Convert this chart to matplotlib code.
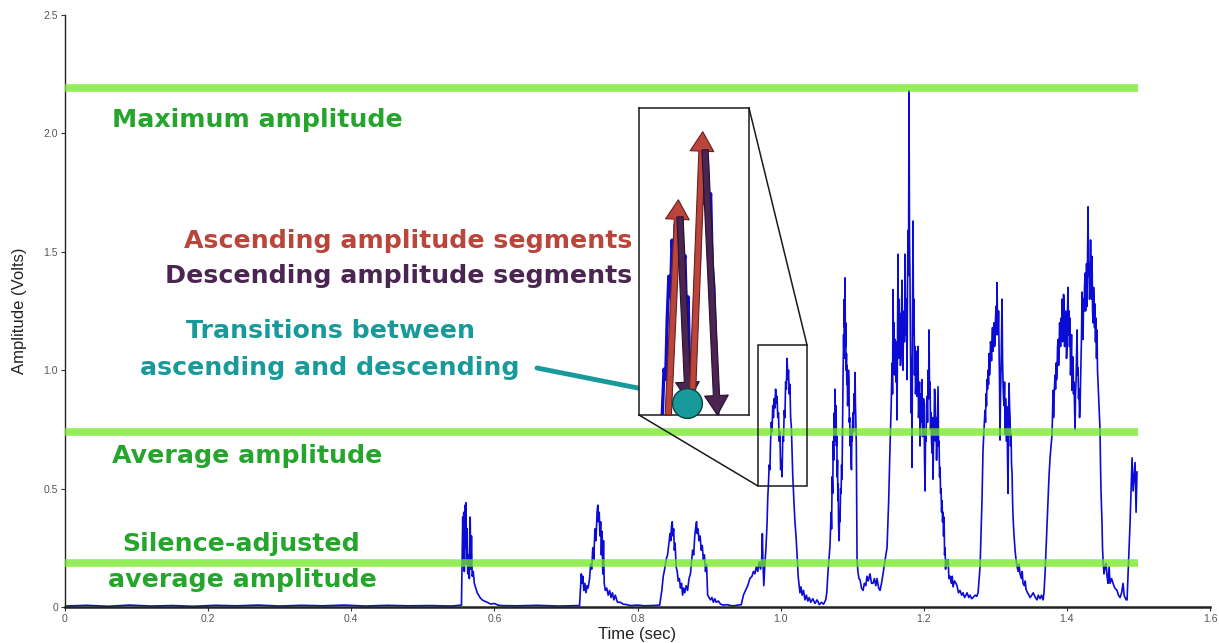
import matplotlib
matplotlib.use('Agg')
import matplotlib.pyplot as plt
from matplotlib.patches import Rectangle, ConnectionPatch, FancyArrowPatch

# ---------------- data: (time s, amplitude V) ----------------
silence_start = [
    (0.000, 0.004), (0.030, 0.007), (0.060, 0.003), (0.090, 0.008), (0.120, 0.004),
    (0.150, 0.006), (0.180, 0.003), (0.210, 0.007), (0.240, 0.005), (0.270, 0.008),
    (0.300, 0.004), (0.330, 0.007), (0.360, 0.005), (0.390, 0.008), (0.420, 0.004),
    (0.450, 0.007), (0.480, 0.005), (0.510, 0.006), (0.540, 0.004), (0.554, 0.008),
]

burst1 = [
    (0.5558, 0.38), (0.5565, 0.20), (0.5572, 0.40), (0.5580, 0.15), (0.5590, 0.43),
    (0.5597, 0.25), (0.5604, 0.44), (0.5612, 0.18), (0.5620, 0.33), (0.5628, 0.14),
    (0.5640, 0.22), (0.5650, 0.12), (0.5662, 0.38), (0.5670, 0.16), (0.5680, 0.30),
    (0.5690, 0.13), (0.5705, 0.15), (0.5720, 0.10), (0.5740, 0.08), (0.5760, 0.06),
    (0.5780, 0.05), (0.5800, 0.04), (0.5830, 0.03), (0.5860, 0.025), (0.5900, 0.02),
    (0.5950, 0.012), (0.6000, 0.015), (0.6050, 0.008), (0.6100, 0.006), (0.6300, 0.005),
    (0.6600, 0.007), (0.6900, 0.004), (0.7150, 0.006),
]

burst2 = [
    (0.7190, 0.006), (0.7200, 0.06), (0.7215, 0.14), (0.7225, 0.10), (0.7235, 0.13),
    (0.7250, 0.07), (0.7265, 0.10), (0.7280, 0.06), (0.7295, 0.09), (0.7310, 0.08),
    (0.7330, 0.12), (0.7345, 0.18), (0.7360, 0.16), (0.7375, 0.25), (0.7390, 0.20),
    (0.7405, 0.33), (0.7420, 0.28), (0.7435, 0.40), (0.7445, 0.43), (0.7455, 0.36),
    (0.7465, 0.40), (0.7475, 0.30), (0.7485, 0.36), (0.7495, 0.22), (0.7505, 0.32),
    (0.7515, 0.14), (0.7525, 0.28), (0.7535, 0.10), (0.7550, 0.07), (0.7570, 0.08),
    (0.7590, 0.05), (0.7610, 0.07), (0.7630, 0.04), (0.7650, 0.06), (0.7670, 0.03),
    (0.7690, 0.05), (0.7720, 0.02), (0.7760, 0.02), (0.7800, 0.012), (0.7850, 0.01),
    (0.7900, 0.006), (0.8000, 0.008), (0.8100, 0.005), (0.8200, 0.006), (0.8310, 0.008),
]

burst3 = [
    (0.8340, 0.07), (0.8360, 0.13), (0.8380, 0.16), (0.8400, 0.20), (0.8420, 0.22),
    (0.8440, 0.27), (0.8455, 0.31), (0.8465, 0.28), (0.8475, 0.34), (0.8485, 0.36),
    (0.8495, 0.30), (0.8505, 0.33), (0.8515, 0.24), (0.8525, 0.27), (0.8540, 0.17),
    (0.8555, 0.15), (0.8570, 0.11), (0.8585, 0.12), (0.8600, 0.08), (0.8615, 0.10),
    (0.8630, 0.05), (0.8645, 0.08), (0.8660, 0.06), (0.8680, 0.09), (0.8700, 0.07),
    (0.8720, 0.12), (0.8740, 0.14), (0.8755, 0.19), (0.8770, 0.24), (0.8785, 0.22),
    (0.8800, 0.30), (0.8815, 0.34), (0.8825, 0.36), (0.8835, 0.31), (0.8845, 0.33),
    (0.8860, 0.28), (0.8875, 0.30), (0.8890, 0.24), (0.8905, 0.26), (0.8920, 0.20),
    (0.8935, 0.22), (0.8950, 0.15), (0.8965, 0.18), (0.8980, 0.05), (0.9000, 0.04),
    (0.9020, 0.03), (0.9040, 0.04), (0.9060, 0.02), (0.9080, 0.035), (0.9100, 0.02),
    (0.9130, 0.025), (0.9160, 0.012), (0.9200, 0.008), (0.9250, 0.01), (0.9300, 0.006),
    (0.9350, 0.005), (0.9400, 0.008), (0.9450, 0.01),
]

burst4 = [
    (0.9480, 0.05), (0.9510, 0.07), (0.9540, 0.09), (0.9570, 0.12), (0.9600, 0.13),
    (0.9620, 0.15), (0.9640, 0.14), (0.9660, 0.17), (0.9680, 0.15), (0.9700, 0.19),
    (0.9720, 0.16), (0.9735, 0.20), (0.9745, 0.31), (0.9755, 0.17), (0.9765, 0.09),
    (0.9780, 0.18), (0.9795, 0.25), (0.9810, 0.35), (0.9820, 0.46), (0.9830, 0.52),
    (0.9840, 0.60), (0.9850, 0.58), (0.9860, 0.70), (0.9870, 0.78), (0.9880, 0.74),
    (0.9890, 0.85), (0.9900, 0.80), (0.9910, 0.88), (0.9920, 0.84), (0.9930, 0.92),
    (0.9940, 0.86), (0.9950, 0.89), (0.9960, 0.80), (0.9970, 0.82), (0.9980, 0.70),
    (0.9990, 0.74), (1.0000, 0.58), (1.0010, 0.62), (1.0020, 0.55), (1.0030, 0.72),
    (1.0040, 0.70), (1.0050, 0.83), (1.0060, 0.80), (1.0070, 0.95), (1.0080, 0.92),
    (1.0090, 1.05), (1.0100, 0.96), (1.0110, 1.00), (1.0120, 0.90), (1.0130, 0.94),
    (1.0140, 0.80), (1.0150, 0.76), (1.0160, 0.66), (1.0170, 0.55), (1.0180, 0.48),
    (1.0190, 0.42), (1.0200, 0.36), (1.0215, 0.30), (1.0230, 0.22), (1.0245, 0.13),
    (1.0260, 0.09), (1.0270, 0.06), (1.0285, 0.085), (1.0300, 0.05), (1.0320, 0.07),
    (1.0340, 0.03), (1.0360, 0.05), (1.0380, 0.025), (1.0400, 0.04), (1.0420, 0.02),
    (1.0450, 0.035), (1.0480, 0.015), (1.0510, 0.03), (1.0540, 0.01), (1.0570, 0.02),
    (1.0600, 0.012), (1.0630, 0.03),
]

burst5 = [
    (1.0645, 0.06), (1.0660, 0.14), (1.0675, 0.20), (1.0690, 0.26), (1.0705, 0.40),
    (1.0712, 0.33), (1.0720, 0.55), (1.0728, 0.48), (1.0735, 0.70), (1.0742, 0.62),
    (1.0750, 0.82), (1.0755, 0.70), (1.0760, 0.92), (1.0765, 0.80), (1.0770, 0.75),
    (1.0775, 0.85), (1.0780, 0.68), (1.0785, 0.72), (1.0790, 0.55), (1.0795, 0.62),
    (1.0800, 0.45), (1.0805, 0.52), (1.0810, 0.34), (1.0818, 0.28), (1.0824, 0.40),
    (1.0830, 0.36), (1.0838, 0.50), (1.0845, 0.48), (1.0852, 0.60), (1.0858, 0.54),
    (1.0865, 0.75), (1.0872, 0.96), (1.0880, 1.15), (1.0885, 1.05), (1.0890, 1.30),
    (1.0895, 1.18), (1.0900, 1.39), (1.0905, 1.10), (1.0910, 1.20), (1.0915, 1.00),
    (1.0920, 1.07), (1.0925, 0.94), (1.0930, 1.02), (1.0936, 0.85), (1.0942, 0.89),
    (1.0948, 1.00), (1.0955, 0.95), (1.0960, 0.78), (1.0965, 0.80), (1.0972, 0.68),
    (1.0978, 0.75), (1.0984, 0.62), (1.0990, 0.58), (1.0995, 0.72), (1.1000, 0.70),
    (1.1006, 0.78), (1.1012, 0.82), (1.1018, 0.74), (1.1025, 0.90), (1.1032, 0.82),
    (1.1040, 0.99), (1.1045, 0.86), (1.1050, 0.80), (1.1058, 0.68), (1.1063, 0.40),
    (1.1068, 0.20), (1.1080, 0.15), (1.1095, 0.12),
    (1.1110, 0.115), (1.1130, 0.08), (1.1152, 0.07), (1.1170, 0.10), (1.1190, 0.09),
    (1.1207, 0.13), (1.1225, 0.11), (1.1249, 0.14), (1.1270, 0.10), (1.1291, 0.10),
    (1.1310, 0.12), (1.1330, 0.09), (1.1347, 0.12), (1.1370, 0.08), (1.1389, 0.07),
    (1.1410, 0.10), (1.1431, 0.14), (1.1460, 0.20), (1.1487, 0.25), (1.1510, 0.45),
    (1.1529, 0.68), (1.1545, 0.85),
    (1.1557, 1.03), (1.1564, 0.90), (1.1571, 1.34), (1.1578, 1.05), (1.1585, 1.20),
    (1.1592, 0.98), (1.1599, 1.13), (1.1606, 1.02), (1.1612, 0.95), (1.1619, 1.12),
    (1.1626, 0.79), (1.1633, 1.10), (1.1640, 1.49), (1.1647, 1.05), (1.1655, 1.30),
    (1.1661, 1.12), (1.1668, 1.24), (1.1675, 1.02), (1.1682, 1.10), (1.1689, 1.25),
    (1.1696, 1.38), (1.1703, 1.08), (1.1710, 1.00), (1.1717, 1.20), (1.1724, 1.25),
    (1.1731, 1.12), (1.1738, 1.49), (1.1745, 1.22), (1.1752, 1.15), (1.1759, 1.30),
    (1.1766, 0.96), (1.1773, 1.35), (1.1780, 1.59), (1.1787, 1.40), (1.1794, 2.18),
    (1.1801, 1.55), (1.1808, 1.38), (1.1815, 1.10), (1.1822, 0.82), (1.1829, 1.05),
    (1.1836, 0.59), (1.1843, 1.20), (1.1850, 1.63), (1.1857, 1.15), (1.1864, 1.30),
    (1.1871, 0.98), (1.1878, 1.10), (1.1885, 0.90), (1.1892, 0.95), (1.1899, 1.08),
    (1.1906, 0.89), (1.1913, 1.02), (1.1920, 1.10), (1.1927, 0.80), (1.1934, 0.85),
    (1.1941, 0.95), (1.1948, 0.68), (1.1955, 0.85), (1.1962, 0.90), (1.1969, 0.78),
    (1.1976, 0.96), (1.1983, 0.72), (1.1990, 0.75), (1.1997, 0.88), (1.2004, 0.85),
    (1.2011, 0.62), (1.2018, 0.49), (1.2025, 0.72), (1.2032, 0.70), (1.2039, 0.85),
    (1.2046, 0.89), (1.2053, 0.78), (1.2060, 1.00), (1.2067, 0.88), (1.2074, 1.17),
    (1.2081, 0.90), (1.2088, 0.95), (1.2095, 0.75), (1.2102, 0.82), (1.2109, 0.70),
    (1.2116, 0.65), (1.2123, 0.80), (1.2130, 0.54), (1.2137, 0.70), (1.2144, 0.75),
    (1.2151, 0.92), (1.2158, 0.89), (1.2165, 0.70), (1.2172, 0.80), (1.2179, 0.62),
    (1.2186, 0.73), (1.2193, 0.85), (1.2200, 0.93), (1.2207, 0.68), (1.2214, 0.70),
    (1.2221, 0.55), (1.2228, 0.59), (1.2235, 0.48), (1.2242, 0.50), (1.2249, 0.40),
    (1.2256, 0.45), (1.2263, 0.36), (1.2270, 0.40), (1.2277, 0.30), (1.2284, 0.38),
    (1.2291, 0.22), (1.2298, 0.25), (1.2305, 0.16), (1.2311, 0.20), (1.2325, 0.18),
    (1.2340, 0.20), (1.2352, 0.12), (1.2367, 0.13), (1.2385, 0.10), (1.2398, 0.13),
    (1.2409, 0.085), (1.2430, 0.11), (1.2450, 0.10), (1.2465, 0.09), (1.2485, 0.06),
    (1.2507, 0.07), (1.2530, 0.05), (1.2549, 0.06), (1.2570, 0.04), (1.2590, 0.05),
    (1.2605, 0.06), (1.2630, 0.04), (1.2647, 0.05), (1.2670, 0.035), (1.2689, 0.04),
    (1.2720, 0.05), (1.2740, 0.045), (1.2759, 0.06),
]

burst6 = [
    (1.2787, 0.17), (1.2800, 0.30), (1.2814, 0.45), (1.2828, 0.66), (1.2842, 0.75),
    (1.2856, 0.83), (1.2863, 0.78), (1.2870, 0.90), (1.2877, 0.85), (1.2884, 0.96),
    (1.2891, 0.92), (1.2898, 1.00), (1.2905, 0.94), (1.2912, 1.07), (1.2919, 0.98),
    (1.2926, 1.02), (1.2933, 1.12), (1.2940, 1.10), (1.2947, 1.04), (1.2954, 1.13),
    (1.2961, 1.18), (1.2968, 1.08), (1.2975, 1.15), (1.2982, 1.20), (1.2989, 1.10),
    (1.2996, 1.12), (1.3003, 1.22), (1.3010, 1.27), (1.3017, 1.15), (1.3024, 1.37),
    (1.3031, 1.20), (1.3038, 1.15), (1.3045, 1.25), (1.3052, 1.085), (1.3059, 0.95),
    (1.3066, 0.705), (1.3073, 0.90), (1.3080, 1.00), (1.3087, 1.15), (1.3094, 1.30),
    (1.3101, 1.05), (1.3108, 0.945), (1.3115, 0.88), (1.3122, 0.85), (1.3129, 0.95),
    (1.3136, 0.73), (1.3143, 0.88), (1.3150, 0.80), (1.3157, 0.70), (1.3164, 0.845),
    (1.3171, 0.62), (1.3178, 0.48), (1.3185, 0.80), (1.3192, 0.945), (1.3199, 0.85),
    (1.3206, 0.80), (1.3213, 0.68), (1.3220, 0.73), (1.3227, 0.60), (1.3234, 0.565),
    (1.3241, 0.45), (1.3248, 0.38), (1.3262, 0.30), (1.3276, 0.24), (1.3290, 0.20),
    (1.3304, 0.17), (1.3320, 0.15), (1.3332, 0.18), (1.3345, 0.14), (1.3365, 0.12),
    (1.3376, 0.15), (1.3387, 0.10), (1.3405, 0.09), (1.3418, 0.11), (1.3429, 0.075),
    (1.3450, 0.06), (1.3470, 0.05), (1.3485, 0.04), (1.3510, 0.05), (1.3530, 0.06),
    (1.3560, 0.04), (1.3583, 0.03), (1.3600, 0.05), (1.3625, 0.035), (1.3645, 0.05),
    (1.3667, 0.03), (1.3680, 0.06),
]

burst7 = [
    (1.3695, 0.14), (1.3710, 0.25), (1.3723, 0.355), (1.3737, 0.45), (1.3750, 0.55),
    (1.3765, 0.63), (1.3779, 0.68), (1.3793, 0.73),
    (1.3807, 0.915), (1.3814, 0.80), (1.3821, 0.88), (1.3828, 0.94), (1.3835, 0.98),
    (1.3842, 0.92), (1.3849, 1.03), (1.3856, 0.96), (1.3863, 1.00), (1.3870, 1.10),
    (1.3877, 1.13), (1.3884, 1.02), (1.3891, 1.08), (1.3898, 1.20), (1.3905, 1.18),
    (1.3912, 1.10), (1.3919, 1.22), (1.3926, 1.15), (1.3933, 1.30), (1.3940, 1.12),
    (1.3947, 1.20), (1.3954, 1.32), (1.3961, 1.28), (1.3968, 1.10), (1.3974, 1.15),
    (1.3981, 1.25), (1.3988, 1.22), (1.3995, 1.05), (1.4002, 1.10), (1.4009, 1.25),
    (1.4016, 1.35), (1.4023, 1.15), (1.4030, 1.25), (1.4037, 1.10), (1.4044, 1.22),
    (1.4051, 0.98), (1.4058, 1.05), (1.4065, 1.15), (1.4072, 0.915), (1.4079, 1.00),
    (1.4086, 1.056), (1.4093, 0.90), (1.4100, 0.95), (1.4107, 0.85), (1.4114, 0.75),
    (1.4121, 0.90), (1.4128, 0.95), (1.4135, 1.05), (1.4142, 1.17), (1.4149, 0.98),
    (1.4156, 1.01), (1.4163, 0.88), (1.4170, 0.92), (1.4177, 0.80), (1.4184, 0.845),
    (1.4191, 0.95), (1.4198, 1.05), (1.4205, 1.15), (1.4212, 1.33), (1.4219, 1.20),
    (1.4226, 1.13), (1.4233, 1.30), (1.4240, 1.25), (1.4247, 1.35), (1.4254, 1.41),
    (1.4261, 1.25), (1.4268, 1.30), (1.4275, 1.45), (1.4282, 1.27), (1.4289, 1.50),
    (1.4296, 1.69), (1.4303, 1.40), (1.4310, 1.45), (1.4317, 1.30), (1.4324, 1.37),
    (1.4331, 1.55), (1.4338, 1.40), (1.4345, 1.30), (1.4352, 1.48), (1.4359, 1.25),
    (1.4366, 1.20), (1.4373, 1.35), (1.4380, 1.30), (1.4387, 1.18), (1.4393, 1.28),
    (1.4400, 1.12), (1.4407, 1.22), (1.4414, 1.05), (1.4421, 1.17), (1.4428, 1.00),
    (1.4435, 0.945), (1.4442, 0.90), (1.4449, 0.85), (1.4456, 0.80), (1.4463, 0.75),
    (1.4470, 0.60), (1.4477, 0.49), (1.4484, 0.42), (1.4491, 0.355), (1.4498, 0.25),
    (1.4505, 0.20), (1.4519, 0.14), (1.4533, 0.17), (1.4547, 0.185), (1.4561, 0.13),
    (1.4575, 0.10), (1.4590, 0.17), (1.4603, 0.10), (1.4625, 0.12), (1.4645, 0.10),
    (1.4670, 0.08), (1.4701, 0.07), (1.4720, 0.05), (1.4743, 0.04), (1.4765, 0.06),
    (1.4785, 0.10), (1.4800, 0.05), (1.4813, 0.04), (1.4830, 0.03), (1.4841, 0.03),
]

burst8 = [
    (1.4855, 0.14), (1.4870, 0.25), (1.4883, 0.355), (1.4897, 0.50), (1.4911, 0.63),
    (1.4925, 0.49), (1.4939, 0.55), (1.4953, 0.61), (1.4967, 0.40), (1.4980, 0.57),
]

ref_levels = [2.19, 0.74, 0.185]       # maximum, average, silence-adjusted average
ref_end = 1.5
zoom_box = (0.9684, 1.0369, 0.511, 1.106)   # t0, t1, a0, a1

x_ticks = [0, 0.2, 0.4, 0.6, 0.8, 1.0, 1.2, 1.4, 1.6]
x_tick_labels = ['0', '0.2', '0.4', '0.6', '0.8', '1.0', '1.2', '1.4', '1.6']
y_ticks = [0, 0.5, 1.0, 1.5, 2.0, 2.5]
y_tick_labels = ['0', '0.5', '1.0', '1.5', '2.0', '2.5']

segments = [silence_start, burst1, burst2, burst3, burst4, burst5, burst6, burst7, burst8]
t_sec = [p[0] for seg in segments for p in seg]
amp_volts = [p[1] for seg in segments for p in seg]

# ---------------- figure ----------------
W, H = 1219, 643
fig = plt.figure(figsize=(W / 100, H / 100), dpi=100)
fig.patch.set_facecolor('white')

def fx(px):
    return px / W

def fy(py):
    return 1 - py / H

ax = fig.add_axes([fx(65), fy(607), 1145 / W, 592 / H])
ax.set_xlim(0, 1.6)
ax.set_ylim(0, 2.5)

BLUE = '#0b0bd6'
GREEN_LINE = (115 / 255, 232 / 255, 35 / 255)
TXT_GREEN = '#25a52c'
RED = '#b9453b'
PURPLE = '#4b2551'
TEAL = '#18999a'

ax.plot(t_sec, amp_volts, color=BLUE, lw=1.2, zorder=2)
for lvl in ref_levels:
    ax.plot([0, ref_end], [lvl, lvl], color=GREEN_LINE, alpha=0.75, lw=5.5,
            solid_capstyle='butt', zorder=3)

for s in ['top', 'right']:
    ax.spines[s].set_visible(False)
ax.spines['left'].set_linewidth(1.0)
ax.spines['bottom'].set_linewidth(1.8)
ax.spines['left'].set_color('#222222')
ax.spines['bottom'].set_color('#222222')

tick_font = ['Liberation Sans Narrow', 'Liberation Sans', 'DejaVu Sans']
ax.set_xticks(x_ticks)
ax.set_xticklabels(x_tick_labels)
ax.set_yticks(y_ticks)
ax.set_yticklabels(y_tick_labels)
ax.tick_params(axis='both', length=3, width=0.8, color='#333333',
               labelsize=7.5, labelcolor='#555555', pad=2)
for lab in ax.get_xticklabels() + ax.get_yticklabels():
    lab.set_family(tick_font)

ax.set_xlabel('Time (sec)', fontsize=12, family=tick_font, color='#222222', labelpad=2)
ax.set_ylabel('Amplitude (Volts)', fontsize=12, family=tick_font, color='#222222', labelpad=12)

# zoom box on main axes
t0, t1, a0, a1 = zoom_box
ax.add_patch(Rectangle((t0, a0), t1 - t0, a1 - a0, fill=False, ec='#1a1a1a',
                       lw=1.1, zorder=5))

# inset axes
inax = fig.add_axes([fx(639), fy(415), 110 / W, 307 / H])
inax.plot(t_sec, amp_volts, color=BLUE, lw=2.4, zorder=1)
inax.set_xlim(t0, t1)
inax.set_ylim(a0, a1)
inax.set_xticks([])
inax.set_yticks([])
for s in inax.spines.values():
    s.set_linewidth(1.1)
    s.set_color('#1a1a1a')

for xyA, xyB in [((1, 1), (t1, a1)), ((0, 0), (t0, a0))]:
    cp = ConnectionPatch(xyA=xyA, coordsA=inax.transAxes, xyB=xyB, coordsB=ax.transData,
                         color='#1a1a1a', lw=1.1)
    fig.add_artist(cp)

def seg_arrow(p0, p1, fc, ec):
    a = FancyArrowPatch(p0, p1, transform=inax.transData,
                        arrowstyle='simple,head_length=14,head_width=17,tail_width=4.5',
                        mutation_scale=1, fc=fc, ec=ec, lw=0.8, shrinkA=0, shrinkB=0,
                        clip_on=False, zorder=5)
    inax.add_patch(a)

seg_arrow((0.9866, 0.511), (0.9929, 0.928), RED, '#6a2020')
seg_arrow((0.9939, 0.895), (0.9991, 0.537), PURPLE, '#2a1030')
seg_arrow((1.0018, 0.560), (1.0081, 1.060), RED, '#6a2020')
seg_arrow((1.0095, 1.025), (1.0172, 0.511), PURPLE, '#2a1030')
inax.scatter([0.9985], [0.5337], s=460, c=TEAL, edgecolors='#0d3f3f', linewidths=1.0,
             zorder=6, clip_on=False)

# teal pointer arrow
ax.annotate('', xy=(663, H - 393), xycoords='figure pixels',
            xytext=(537, H - 368), textcoords='figure pixels',
            arrowprops=dict(arrowstyle='-|>,head_length=0.9,head_width=0.55',
                            color=TEAL, lw=3.5, shrinkA=0, shrinkB=0), zorder=7)

# annotation texts
tfont = dict(family='DejaVu Sans', fontweight='bold', fontsize=18.2)
def label(px, py, s, color, ha='left'):
    fig.text(fx(px), fy(py), s, color=color, ha=ha, va='baseline', **tfont)

label(112, 127, 'Maximum amplitude', TXT_GREEN)
label(632, 248, 'Ascending amplitude segments', RED, ha='right')
label(632, 283, 'Descending amplitude segments', PURPLE, ha='right')
label(330, 338, 'Transitions between', TEAL, ha='center')
label(330, 375, 'ascending and descending', TEAL, ha='center')
label(112, 463, 'Average amplitude', TXT_GREEN)
label(241, 551, 'Silence-adjusted', TXT_GREEN, ha='center')
label(242, 587, 'average amplitude', TXT_GREEN, ha='center')

fig.savefig('out.png', dpi=100, facecolor='white')
